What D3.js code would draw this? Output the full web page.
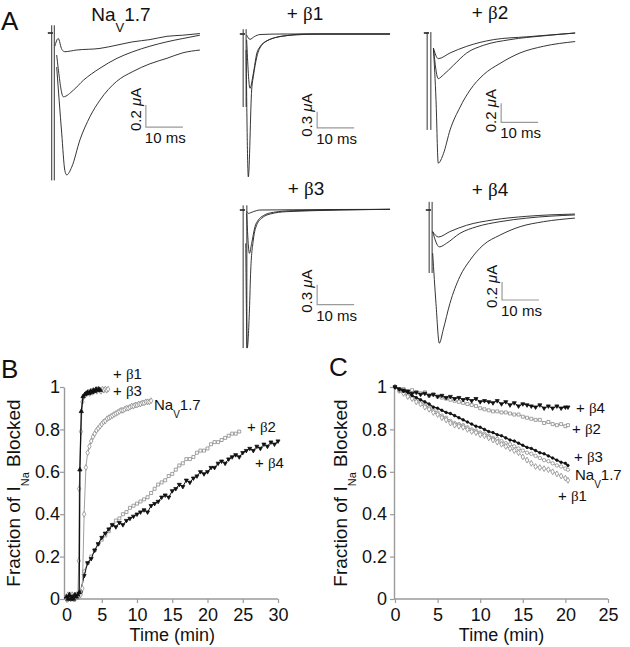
<!DOCTYPE html>
<html><head><meta charset="utf-8">
<script src="https://cdn.jsdelivr.net/npm/d3@7/dist/d3.min.js"></script>
<style>
html,body{margin:0;padding:0;background:#fff}
svg{display:block;font-family:"Liberation Sans",Arial,Helvetica,sans-serif}
</style></head><body>
<svg id="fig" width="630" height="647"></svg>
<script>
// ================= DATA =================
// ---- Panel A: current traces, [time (ms), current (µA)] ----
// artifacts: [time, top current, bottom current]
const navArtifact = [[-0.35, 0.07, -1.34], [0.35, 0.07, -1.34]];
const navSmall  = [[0.5,-0.12],[1.4,-0.05],[2.4,-0.15],[3.2,-0.17],[6.3,-0.155],[12.7,-0.14],[17.3,-0.11],[21.6,-0.08],[26.2,-0.06],[30.8,-0.03],[35.1,-0.02],[39.7,-0.005]];
const navMedium = [[1.0,-0.2],[1.4,-0.32],[2.8,-0.58],[5.5,-0.52],[8.2,-0.43],[12.7,-0.32],[17.3,-0.23],[21.6,-0.17],[26.2,-0.12],[30.8,-0.08],[35.1,-0.05],[39.7,-0.02]];
const navLarge  = [[1.0,-0.31],[2.35,-0.91],[3.2,-1.25],[3.7,-1.29],[5.05,-1.22],[7.3,-0.97],[10,-0.76],[12.7,-0.61],[17.2,-0.44],[21.6,-0.35],[26.2,-0.28],[30.8,-0.23],[35.1,-0.18],[39.7,-0.155]];

const b1Artifact = [[-0.5, 0.09, -1.37], [0.3, 0.09, -1.37]];
const b1Small  = [[0.45,-0.02],[1.35,-0.10],[2.5,-0.05],[4.05,-0.01],[10,0],[39.2,0]];
const b1Medium = [[0.45,-0.11],[1.35,-1.02],[2.25,-0.74],[3.2,-0.36],[4.05,-0.24],[5.9,-0.13],[8.6,-0.06],[13,-0.02],[20.3,0],[39.2,0]];
const b1Large  = [[0.3,-0.3],[0.9,-2.68],[1.8,-1.05],[2.25,-0.80],[3.2,-0.43],[4.5,-0.21],[6.8,-0.10],[11.3,-0.03],[16.7,0],[39.2,0]];

const b2Artifact = [[-0.5, 0.01, -1.02], [0.5, 0.01, -1.02]];
const b2Small  = [[1.2,-0.16],[2.5,-0.27],[5.7,-0.21],[10.2,-0.14],[17.4,-0.07],[26.4,-0.04],[39.5,0]];
const b2Medium = [[1.2,-0.16],[2.5,-0.48],[3.9,-0.44],[6.6,-0.34],[10.2,-0.21],[14.7,-0.13],[21.9,-0.07],[30.9,-0.03],[39.5,0]];
const b2Large  = [[1.2,-0.16],[1.9,-0.71],[2.5,-1.37],[3.9,-1.27],[5.7,-1.02],[8.4,-0.78],[11.1,-0.60],[14.7,-0.44],[19.2,-0.32],[24.6,-0.21],[30.9,-0.14],[39.5,-0.09]];

const b3Artifact = [[-0.5, 0.07, -2.07], [0.5, 0.07, -2.07]];
const b3Small  = [[0.45,-0.02],[0.9,-0.05],[2.25,-0.025],[4.05,0],[39.2,0.01]];
const b3Medium = [[0.45,-0.05],[1.2,-0.65],[1.8,-0.50],[2.7,-0.25],[3.6,-0.15],[4.95,-0.085],[7.65,-0.035],[13,-0.01],[39.2,0.01]];
const b3Large  = [[0.2,-0.5],[0.6,-2.07],[1.2,-1.5],[1.55,-0.9],[2.25,-0.45],[3.2,-0.22],[4.5,-0.125],[6.8,-0.06],[11.3,-0.025],[39.2,0.01]];

const b4Artifact = [[-0.5, 0.09, -0.70], [0.3, 0.09, -0.70]];
const b4Small  = [[0.45,-0.24],[2.0,-0.30],[5.1,-0.24],[9.6,-0.17],[16.8,-0.11],[25.9,-0.07],[38.9,-0.045]];
const b4Medium = [[0.45,-0.24],[2.25,-0.41],[4.2,-0.37],[7.8,-0.26],[12.4,-0.185],[18.6,-0.13],[25.9,-0.09],[38.9,-0.055]];
const b4Large  = [[0.45,-0.48],[1.35,-1.04],[2.25,-1.48],[3.3,-1.33],[5.1,-1.04],[7.8,-0.74],[10.5,-0.56],[14.1,-0.39],[18.6,-0.28],[24.1,-0.185],[30.4,-0.13],[38.9,-0.09]];

const scaleBarTime = 10;              // ms
const scaleBarCurrents = [0.2, 0.3, 0.2, 0.3, 0.2]; // µA

// ---- Panel B: onset of block (time in min, fraction blocked) ----
const tB_b1 = [0,0.2,0.4,0.6,0.8,1.0,1.2,1.4,1.6,1.8,1.9,2.1,2.35,2.6,2.8,3.0,3.2,3.4,3.6,3.8,4.0,4.2,4.4,4.6,4.8];
const vB_b1 = [0.01,0,0.02,0,0.01,0,0.02,0.01,0.02,0.03,0.61,0.885,0.955,0.965,0.97,0.975,0.97,0.98,0.975,0.985,0.98,0.99,0.985,0.99,0.985];
const tB_b3 = [0,0.2,0.4,0.6,0.8,1.0,1.2,1.4,1.6,1.75,1.8,2.05,2.25,2.45,2.7,2.9,3.1,3.3,3.5,3.7,3.9,4.1,4.3,4.5,4.7,4.9,5.1,5.3,5.5,5.7,5.9];
const vB_b3 = [0,0.02,0.01,0,0.02,0.01,0,0.02,0.01,0.18,0.52,0.79,0.93,0.955,0.965,0.97,0.975,0.97,0.98,0.975,0.98,0.985,0.98,0.99,0.985,0.98,0.99,0.985,0.99,0.985,0.99];
const tB_nav = [0,0.25,0.5,0.75,1,1.25,1.5,1.75,2,2.25,2.5,2.75,3,3.25,3.5,3.75,4,4.25,4.5,4.75,5,5.25,5.5,5.75,6,6.25,6.5,6.75,7,7.25,7.5,7.75,8,8.25,8.5,8.75,9,9.25,9.5,9.75,10,10.25,10.5,10.75,11,11.25,11.5,11.75,12];
const vB_nav = [0.01,0,0.02,0.01,0,0.01,0.02,0.01,0.02,0.05,0.40,0.62,0.69,0.72,0.745,0.765,0.78,0.795,0.805,0.815,0.825,0.835,0.84,0.85,0.855,0.86,0.865,0.87,0.875,0.88,0.885,0.89,0.89,0.895,0.90,0.90,0.905,0.91,0.91,0.915,0.915,0.92,0.92,0.925,0.925,0.93,0.93,0.93,0.935];
const tB_b2 = [0,0.5,1,1.5,2,2.5,3,3.5,4,4.5,5,5.5,6,6.5,7,7.5,8,8.5,9,9.5,10,10.5,11,11.5,12,12.5,13,13.5,14,14.5,15,15.5,16,16.5,17,17.5,18,18.5,19,19.5,20,20.5,21,21.5,22,22.5,23,23.5,24,24.5];
const vB_b2 = [0.01,0,0.02,0.01,0.03,0.13,0.17,0.20,0.23,0.26,0.28,0.30,0.32,0.35,0.37,0.38,0.40,0.41,0.43,0.44,0.45,0.46,0.47,0.48,0.50,0.52,0.54,0.55,0.56,0.58,0.59,0.61,0.63,0.64,0.66,0.66,0.67,0.69,0.70,0.70,0.71,0.73,0.74,0.74,0.75,0.76,0.77,0.78,0.78,0.79];
const tB_b4 = [0,0.5,1,1.5,2,2.5,3,3.5,4,4.5,5,5.5,6,6.5,7,7.5,8,8.5,9,9.5,10,10.5,11,11.5,12,12.5,13,13.5,14,14.5,15,15.5,16,16.5,17,17.5,18,18.5,19,19.5,20,20.5,21,21.5,22,22.5,23,23.5,24,24.5,25,25.5,26,26.5,27,27.5,28,28.5,29,29.5,30];
const vB_b4 = [0,0.01,0,0.01,0.03,0.11,0.17,0.19,0.23,0.26,0.29,0.31,0.33,0.35,0.34,0.36,0.35,0.37,0.38,0.39,0.40,0.41,0.42,0.41,0.44,0.45,0.46,0.48,0.49,0.48,0.51,0.52,0.54,0.53,0.56,0.55,0.57,0.58,0.60,0.59,0.60,0.62,0.62,0.64,0.65,0.64,0.66,0.67,0.68,0.67,0.69,0.70,0.71,0.70,0.72,0.71,0.73,0.72,0.74,0.73,0.745];

// ---- Panel C: recovery (time in min, fraction blocked) ----
const tC = [0,0.5,1,1.5,2,2.5,3,3.5,4,4.5,5,5.5,6,6.5,7,7.5,8,8.5,9,9.5,10,10.5,11,11.5,12,12.5,13,13.5,14,14.5,15,15.5,16,16.5,17,17.5,18,18.5,19,19.5,20,20.3];
const vC_b4  = [1.0,0.99,0.985,0.98,0.97,0.975,0.965,0.97,0.96,0.965,0.955,0.96,0.95,0.955,0.945,0.95,0.94,0.945,0.935,0.945,0.93,0.935,0.93,0.925,0.935,0.92,0.93,0.915,0.925,0.91,0.92,0.915,0.91,0.905,0.915,0.90,0.91,0.90,0.91,0.90,0.905,0.905];
const vC_b2  = [1.0,0.99,0.99,0.98,0.985,0.975,0.97,0.975,0.96,0.965,0.955,0.95,0.945,0.94,0.935,0.93,0.925,0.92,0.915,0.91,0.90,0.895,0.89,0.885,0.885,0.88,0.88,0.875,0.87,0.87,0.86,0.855,0.85,0.845,0.845,0.83,0.835,0.825,0.82,0.825,0.815,0.82];
const vC_b3  = [1.0,0.99,0.98,0.975,0.96,0.95,0.94,0.93,0.92,0.905,0.90,0.89,0.88,0.875,0.865,0.855,0.845,0.835,0.825,0.815,0.81,0.80,0.79,0.785,0.775,0.77,0.76,0.75,0.745,0.735,0.725,0.715,0.71,0.70,0.69,0.685,0.675,0.665,0.655,0.645,0.64,0.63];
const vC_nav = [1.0,0.98,0.975,0.96,0.955,0.94,0.93,0.915,0.905,0.89,0.88,0.865,0.855,0.84,0.83,0.825,0.82,0.81,0.80,0.795,0.785,0.78,0.77,0.76,0.755,0.745,0.735,0.73,0.72,0.71,0.70,0.69,0.685,0.675,0.665,0.655,0.65,0.64,0.63,0.625,0.615,0.61];
const vC_b1  = [1.0,0.985,0.97,0.955,0.945,0.93,0.92,0.905,0.895,0.88,0.87,0.855,0.845,0.83,0.82,0.815,0.81,0.80,0.79,0.785,0.775,0.77,0.76,0.75,0.74,0.73,0.72,0.71,0.70,0.69,0.67,0.655,0.64,0.625,0.62,0.615,0.61,0.60,0.59,0.58,0.57,0.56];

const yTicks = [0, 0.2, 0.4, 0.6, 0.8, 1];
const xTicksB = [0, 5, 10, 15, 20, 25, 30];
const xTicksC = [0, 5, 10, 15, 20, 25];

// ================= DRAWING =================
const svg = d3.select("#fig");
const GREEK = '"Liberation Serif","DejaVu Serif",serif';
const INK = "#111";

function rich(g, x, y, parts, size, opts = {}) {
  const t = g.append("text").attr("x", x).attr("y", y).attr("font-size", size).attr("fill", INK);
  if (opts.anchor) t.attr("text-anchor", opts.anchor);
  if (opts.transform) t.attr("transform", opts.transform);
  const subSize = opts.subSize || size * 0.72;
  const subShift = opts.subShift != null ? opts.subShift : size * 0.6;
  let shift = 0;
  parts.forEach(([str, kind]) => {
    const ts = t.append("tspan").text(str);
    const target = kind === "sub" ? subShift : 0;
    if (target !== shift) { ts.attr("dy", target - shift); shift = target; }
    if (kind === "sub") ts.attr("font-size", subSize);
    if (kind === "greek") ts.attr("font-family", GREEK);
    if (kind === "italic") ts.attr("font-style", "italic");
  });
  return t;
}
const NAV = [["Na"], ["V", "sub"], ["1.7"]];
const beta = n => [["+ "], ["β", "greek"], [String(n)]];

// panel letters
svg.append("text").attr("x", 1).attr("y", 30).attr("font-size", 26).attr("fill", INK).text("A");
svg.append("text").attr("x", 1).attr("y", 378).attr("font-size", 26).attr("fill", INK).text("B");
svg.append("text").attr("x", 329).attr("y", 376).attr("font-size", 26).attr("fill", INK).text("C");

// ---- Panel A ----
const panelA = [
  { title: NAV,     tx: 121, ty: 21,  x0: 53,  y0: 33,  k: 110,  art: navArtifact, tr: [navSmall, navMedium, navLarge], bar: [25.1, -0.855], labDy: 4 },
  { title: beta(1), tx: 305, ty: 20,  x0: 245, y0: 34,  k: 53.3, art: b1Artifact,  tr: [b1Small, b1Medium, b1Large],    bar: [19.5, -1.76],  labDy: 9 },
  { title: beta(2), tx: 490, ty: 19,  x0: 429, y0: 33,  k: 95,   art: b2Artifact,  tr: [b2Small, b2Medium, b2Large],    bar: [19.5, -0.94],  labDy: 10 },
  { title: beta(3), tx: 306, ty: 195, x0: 245, y0: 210, k: 66.7, art: b3Artifact,  tr: [b3Small, b3Medium, b3Large],    bar: [19.5, -1.42],  labDy: 8 },
  { title: beta(4), tx: 490, ty: 196, x0: 431, y0: 210, k: 90,   art: b4Artifact,  tr: [b4Small, b4Medium, b4Large],    bar: [19.2, -1.0],   labDy: 8 }
];
panelA.forEach((p, i) => {
  const x = d3.scaleLinear().domain([0, 10]).range([p.x0, p.x0 + 37]);
  const y = d3.scaleLinear().domain([0, -1]).range([p.y0, p.y0 + p.k]);
  const g = svg.append("g");
  rich(g, p.tx, p.ty, p.title, 19, { anchor: "middle", subSize: 13, subShift: 11 });
  g.append("path").attr("d", d3.line()([[x(-1.4), y(0)], [x(0), y(0)]]))
    .attr("stroke", "#222").attr("stroke-width", 1.6).attr("fill", "none");
  p.art.forEach(a => g.append("line")
    .attr("x1", x(a[0])).attr("x2", x(a[0])).attr("y1", y(a[1])).attr("y2", y(a[2]))
    .attr("stroke", "#333").attr("stroke-width", 1));
  const line = d3.line().x(d => x(d[0])).y(d => y(d[1])).curve(d3.curveMonotoneX);
  p.tr.forEach(tr => g.append("path").attr("d", line(tr))
    .attr("fill", "none").attr("stroke", "#2a2a2a").attr("stroke-width", 0.95));
  const dI = scaleBarCurrents[i];
  const bx = x(p.bar[0]), by = y(p.bar[1]);
  g.append("path").attr("d", `M${bx},${y(p.bar[1] + dI)}V${by}H${x(p.bar[0] + scaleBarTime)}`)
    .attr("fill", "none").attr("stroke", "#9a9a9a").attr("stroke-width", 1.2);
  const lx = bx - 5, ly = by + p.labDy;
  rich(g, lx, ly, [[dI + " "], ["μ", "italic"], ["A"]], 15, { transform: `rotate(-90,${lx},${ly})` });
  g.append("text").attr("x", bx - 1).attr("y", by + 16).attr("font-size", 15).attr("fill", INK)
    .text(scaleBarTime + " ms");
});

// ---- Panels B & C ----
const yScale = d3.scaleLinear().domain([0, 1]).range([599, 387]);
const xB = d3.scaleLinear().domain([0, 30]).range([66.5, 278]);
const xC = d3.scaleLinear().domain([0, 25]).range([395, 608]);

function axes(x, xTicks, yOff, pad, titleX) {
  const g = svg.append("g");
  const ax0 = x(0) - yOff;
  const gx = g.append("g").attr("transform", `translate(0,${yScale(0)})`)
    .call(d3.axisBottom(x).tickValues(xTicks).tickSize(4).tickSizeOuter(0).tickPadding(5).tickFormat(d => String(d)));
  gx.select(".domain").attr("d", `M${ax0},0H${x.range()[1]}`);
  const gy = g.append("g").attr("transform", `translate(${ax0},0)`)
    .call(d3.axisLeft(yScale).tickValues(yTicks).tickSize(4).tickSizeOuter(0).tickPadding(pad).tickFormat(d => String(d)));
  [gx, gy].forEach(a => {
    a.select(".domain").attr("stroke", "#9a9a9a").attr("stroke-width", 1.4);
    a.selectAll(".tick line").attr("stroke", "#9a9a9a").attr("stroke-width", 1.2);
    a.selectAll(".tick text").attr("font-size", 18).attr("fill", INK)
      .attr("font-family", '"Liberation Sans",Arial,sans-serif');
  });
  const [r0, r1] = x.range();
  g.append("text").attr("x", (r0 + r1) / 2).attr("y", 641).attr("text-anchor", "middle")
    .attr("font-size", 18).attr("fill", INK).text("Time (min)");
  const cy = (yScale(0) + yScale(1)) / 2;
  rich(g, titleX, cy, [["Fraction of I"], ["Na", "sub"], [" Blocked"]], 19,
    { anchor: "middle", transform: `rotate(-90,${titleX},${cy})`, subSize: 11, subShift: 9 });
}

const GRAY = "#8c8c8c";
function series(x, ts, vs, st) {
  const pts = ts.map((t, i) => [x(t), yScale(vs[i])]);
  const g = svg.append("g");
  g.append("path").attr("d", d3.line()(pts)).attr("fill", "none")
    .attr("stroke", st.line).attr("stroke-width", st.lw || 1);
  const sym = d3.symbol().type(st.shape).size(st.size);
  g.selectAll("path.m").data(pts).join("path").attr("class", "m")
    .attr("d", sym)
    .attr("transform", d => `translate(${d[0]},${d[1]})${st.rot ? " rotate(180)" : ""}`)
    .attr("fill", st.fill).attr("stroke", st.stroke).attr("stroke-width", 0.8);
}

axes(xB, xTicksB, 2.5, 0, 20);
axes(xC, xTicksC, 1, 3, 347);

const grayDiamond = { shape: d3.symbolDiamond, size: 10, fill: "#fff", stroke: GRAY, line: "#a0a0a0" };
const graySquare  = { shape: d3.symbolSquare, size: 9, fill: "#fff", stroke: GRAY, line: "#a0a0a0" };
const grayCircle  = { shape: d3.symbolCircle, size: 9, fill: "#fff", stroke: GRAY, line: "#a0a0a0" };
const blackUp     = { shape: d3.symbolTriangle, size: 8, fill: "#111", stroke: "#111", line: "#111", lw: 1.3 };
const blackDown   = { shape: d3.symbolTriangle, size: 7, fill: "#111", stroke: "#111", line: "#111", rot: true };
const blackDot    = { shape: d3.symbolCircle, size: 5, fill: "#111", stroke: "#111", line: "#111", lw: 1.3 };

series(xB, tB_b2, vB_b2, graySquare);
series(xB, tB_b4, vB_b4, blackDown);
series(xB, tB_nav, vB_nav, grayDiamond);
series(xB, tB_b3, vB_b3, grayDiamond);
series(xB, tB_b1, vB_b1, blackUp);

series(xC, tC, vC_b2, graySquare);
series(xC, tC, vC_nav, grayCircle);
series(xC, tC, vC_b1, grayDiamond);
series(xC, tC, vC_b4, blackDown);
series(xC, tC, vC_b3, blackDot);

// series labels
const LS = 15;
const navLab = { subSize: 10, subShift: 8 };
rich(svg, 113, 379, beta(1), LS);
rich(svg, 113, 396, beta(3), LS);
rich(svg, 154, 410, NAV, LS, navLab);
rich(svg, 247, 432, beta(2), LS);
rich(svg, 255, 468, beta(4), LS);

rich(svg, 576, 413, beta(4), LS);
rich(svg, 572, 434, beta(2), LS);
rich(svg, 574, 462, beta(3), LS);
rich(svg, 575, 480, NAV, LS, navLab);
rich(svg, 558, 501, beta(1), LS);
</script>
</body></html>
